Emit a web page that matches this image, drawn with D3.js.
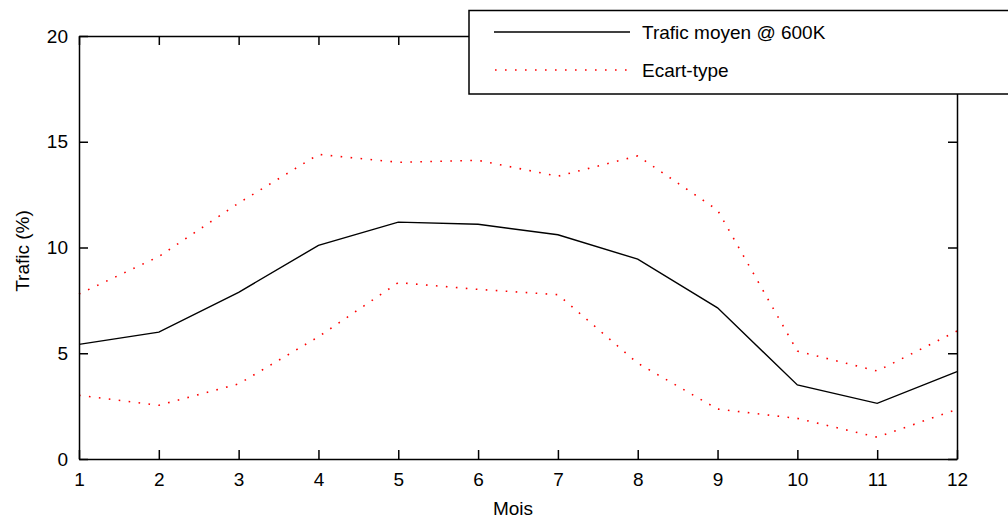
<!DOCTYPE html>
<html><head><meta charset="utf-8">
<script src="https://cdn.jsdelivr.net/npm/d3@7"></script>
<style>
html,body{margin:0;padding:0;background:#fff;}
svg{display:block;font-family:"Liberation Sans",Arial,sans-serif;}
</style></head>
<body>
<svg id="chart" width="1008" height="525"></svg>
<script>
const months = [1,2,3,4,5,6,7,8,9,10,11,12];
const meanTraffic = [5.42,6.0,7.88,10.1,11.2,11.1,10.6,9.45,7.15,3.5,2.63,4.13];
const upperStd = [7.8,9.57,12.1,14.4,14.03,14.12,13.37,14.33,11.77,5.1,4.16,6.05];
const lowerStd = [3.01,2.54,3.55,5.78,8.34,8.02,7.77,4.53,2.36,1.92,1.03,2.35];
const yTicks = [0,5,10,15,20];
const legendLabels = ["Trafic moyen @ 600K","Ecart-type"];
const xLabel = "Mois";
const yLabel = "Trafic (%)";

const svg = d3.select("#chart");
const L = 79, R = 957, T = 36, B = 459;
const x = d3.scaleLinear().domain([1,12]).range([L,R]);
const y = d3.scaleLinear().domain([0,20]).range([B,T]);
const fs = 19;

const line = d3.line().x((d,i)=>x(months[i])).y(d=>y(d));

// data
svg.append("path").datum(upperStd).attr("d",line).attr("fill","none")
  .attr("stroke","#ff0000").attr("stroke-width",1.6).attr("stroke-dasharray","1.6,8.4");
svg.append("path").datum(lowerStd).attr("d",line).attr("fill","none")
  .attr("stroke","#ff0000").attr("stroke-width",1.6).attr("stroke-dasharray","1.6,8.4");
svg.append("path").datum(meanTraffic).attr("d",line).attr("fill","none")
  .attr("stroke","#000").attr("stroke-width",1.4);

// axes
function styleAxis(g){
  g.selectAll("path").attr("stroke","#000").attr("stroke-width",1.5);
  g.selectAll("line").attr("stroke","#000").attr("stroke-width",1.5);
  g.selectAll("text").attr("fill","#000").style("font-size",fs+"px")
    .style("font-family","'Liberation Sans',Arial,sans-serif");
}
svg.append("g").attr("transform",`translate(0,${B})`)
  .call(d3.axisBottom(x).tickValues(months).tickFormat(d3.format("d")).tickSizeInner(-9).tickSizeOuter(0).tickPadding(14))
  .call(styleAxis);
svg.append("g").attr("transform",`translate(0,${T})`)
  .call(d3.axisTop(x).tickValues(months).tickFormat("").tickSizeInner(-9).tickSizeOuter(0))
  .call(styleAxis);
svg.append("g").attr("transform",`translate(${L},0)`)
  .call(d3.axisLeft(y).tickValues(yTicks).tickFormat(d3.format("d")).tickSizeInner(-9).tickSizeOuter(0).tickPadding(11))
  .call(styleAxis);
svg.append("g").attr("transform",`translate(${R},0)`)
  .call(d3.axisRight(y).tickValues(yTicks).tickFormat("").tickSizeInner(-9).tickSizeOuter(0))
  .call(styleAxis);

// axis titles
svg.append("text").attr("x",513).attr("y",515).attr("text-anchor","middle")
  .style("font-size",fs+"px").text(xLabel);
svg.append("text").attr("transform","translate(29,251) rotate(-90)").attr("text-anchor","middle")
  .style("font-size",fs+"px").text(yLabel);

// legend
const lg = svg.append("g");
lg.append("rect").attr("x",469).attr("y",10.5).attr("width",560).attr("height",83.5)
  .attr("fill","#fff").attr("stroke","#000").attr("stroke-width",1.5);
lg.append("line").attr("x1",494).attr("x2",630).attr("y1",32).attr("y2",32)
  .attr("stroke","#000").attr("stroke-width",1.4);
lg.append("line").attr("x1",495).attr("x2",630).attr("y1",70).attr("y2",70)
  .attr("stroke","#ff0000").attr("stroke-width",1.6).attr("stroke-dasharray","1.6,8.4");
lg.append("text").attr("x",642).attr("y",32).attr("dy","0.35em").style("font-size",fs+"px").text(legendLabels[0]);
lg.append("text").attr("x",642).attr("y",70).attr("dy","0.35em").style("font-size",fs+"px").text(legendLabels[1]);
</script>
</body></html>
